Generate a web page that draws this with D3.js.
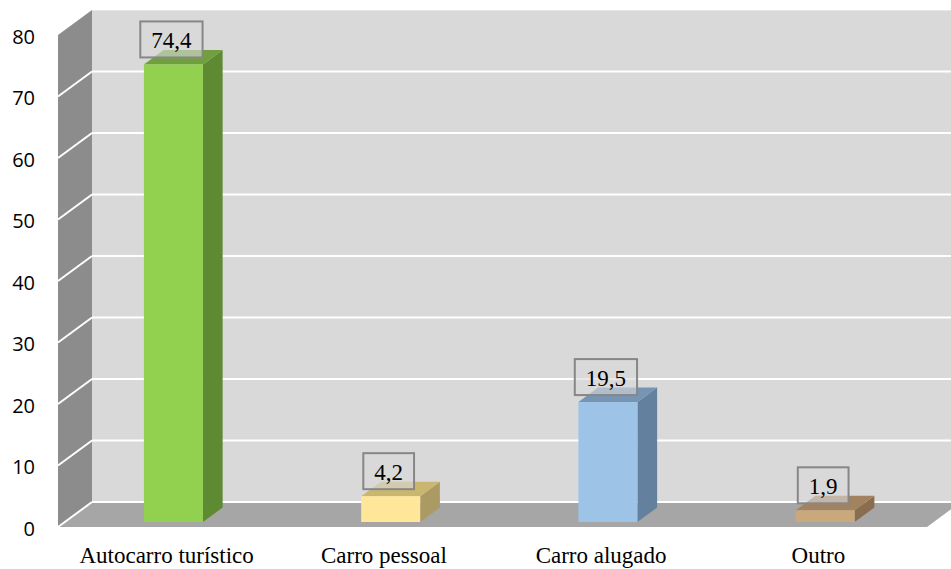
<!DOCTYPE html>
<html>
<head>
<meta charset="utf-8">
<script src="https://cdn.jsdelivr.net/npm/d3@7"></script>
<style>
  html, body { margin: 0; padding: 0; background: #ffffff; }
  svg { display: block; }
</style>
</head>
<body>
<div id="chart"></div>
<script>
// Transport used by respondents (%)
const categories = ["Autocarro turístico", "Carro pessoal", "Carro alugado", "Outro"];
const values = [74.4, 4.2, 19.5, 1.9];
const valueLabels = ["74,4", "4,2", "19,5", "1,9"];
const frontColors = ["#92d050", "#ffe699", "#9dc3e6", "#c9a97b"];
const topColors   = ["#70a03d", "#c9b66f", "#7695b4", "#a3835f"];
const sideColors  = ["#5e8a32", "#ab9b62", "#63809f", "#8a6d4e"];
const yTicks = [0, 10, 20, 30, 40, 50, 60, 70, 80];

const W = 951, H = 569;
// front plane of the floor/left wall, and the depth offset to the back wall
const front = { left: 58, right: 927, top: 35, bottom: 527 };
const depth = { dx: 34, dy: -25 };
// bars sit between these fractions of the floor depth
const barZ0 = 0.2, barZ1 = 0.78;
const barWidth = 59;

const x = d3.scaleBand().domain(categories).range([front.left, front.right]);
const y = d3.scaleLinear().domain([0, 80]).range([front.bottom, front.top]);

const svg = d3.select("#chart").append("svg")
  .attr("width", W).attr("height", H);

const pt = (p) => p.map(d => d.join(",")).join(" ");

// back wall
const backLeft = front.left + depth.dx;
svg.append("rect")
  .attr("x", backLeft).attr("y", y(80) + depth.dy)
  .attr("width", W - backLeft + 20).attr("height", y(0) - y(80))
  .attr("fill", "#d9d9d9");

// left side wall
svg.append("polygon")
  .attr("points", pt([[front.left, y(80)], [backLeft, y(80) + depth.dy],
                      [backLeft, y(0) + depth.dy], [front.left, y(0)]]))
  .attr("fill", "#8c8c8c");

// floor
svg.append("polygon")
  .attr("points", pt([[front.left, y(0)], [backLeft, y(0) + depth.dy],
                      [front.right + depth.dx, y(0) + depth.dy], [front.right, y(0)]]))
  .attr("fill", "#a6a6a6");

// gridlines on the back wall and side wall
const grid = svg.append("g").attr("stroke", "#ffffff").attr("stroke-width", 2).attr("fill", "none");
grid.selectAll("line.back").data(yTicks).join("line")
  .attr("class", "back")
  .attr("x1", backLeft).attr("x2", W + 20)
  .attr("y1", d => y(d) + depth.dy).attr("y2", d => y(d) + depth.dy)
  .attr("stroke-opacity", d => d === 80 ? 0.35 : 1);
grid.selectAll("line.side").data(yTicks.filter(d => d < 80)).join("line")
  .attr("class", "side")
  .attr("x1", front.left).attr("y1", d => y(d))
  .attr("x2", backLeft).attr("y2", d => y(d) + depth.dy);

// y tick labels
svg.append("g").selectAll("text").data(yTicks).join("text")
  .attr("x", 35).attr("y", d => y(d) + 1.5)
  .attr("dy", "0.35em")
  .attr("text-anchor", "end")
  .attr("font-family", "'Open Sans', 'Noto Sans', sans-serif")
  .attr("font-size", 20)
  .attr("fill", "#000")
  .text(d => d);

// 3D bars
const ox = depth.dx * barZ0, oy = depth.dy * barZ0;
const bx = depth.dx * (barZ1 - barZ0), by = depth.dy * (barZ1 - barZ0);
const bars = svg.append("g");
categories.forEach((c, i) => {
  const cx = x(c) + x.bandwidth() / 2 + ox;
  const x0 = cx - barWidth / 2, x1 = cx + barWidth / 2;
  const yb = y(0) + oy, yt = y(values[i]) + oy;
  const g = bars.append("g");
  g.append("polygon")
    .attr("points", pt([[x1, yb], [x1 + bx, yb + by], [x1 + bx, yt + by], [x1, yt]]))
    .attr("fill", sideColors[i]);
  g.append("polygon")
    .attr("points", pt([[x0, yt], [x0 + bx, yt + by], [x1 + bx, yt + by], [x1, yt]]))
    .attr("fill", topColors[i]);
  g.append("rect")
    .attr("x", x0).attr("y", yt).attr("width", barWidth).attr("height", yb - yt)
    .attr("fill", frontColors[i]);
});

// value labels in boxes
const labels = svg.append("g");
categories.forEach((c, i) => {
  const cx = x(c) + x.bandwidth() / 2 + ox - 2;
  const bottom = y(values[i]) + oy - 7;
  const g = labels.append("g");
  const t = g.append("text")
    .attr("x", cx).attr("y", bottom - 9)
    .attr("text-anchor", "middle")
    .attr("font-family", "'Liberation Serif', 'Times New Roman', serif")
    .attr("font-size", 23)
    .attr("fill", "#000")
    .text(valueLabels[i]);
  const tw = t.node().getComputedTextLength();
  const bw = tw + 22, bh = 36;
  g.insert("rect", "text")
    .attr("x", cx - bw / 2).attr("y", bottom - bh)
    .attr("width", bw).attr("height", bh)
    .attr("fill", "#d9d9d9").attr("fill-opacity", 0.6)
    .attr("stroke", "#878787").attr("stroke-width", 2);
});

// category labels
svg.append("g").selectAll("text").data(categories).join("text")
  .attr("x", d => x(d) + x.bandwidth() / 2)
  .attr("y", 563)
  .attr("text-anchor", "middle")
  .attr("font-family", "'Liberation Serif', 'Times New Roman', serif")
  .attr("font-size", 23)
  .attr("fill", "#000")
  .text(d => d);
</script>
</body>
</html>
